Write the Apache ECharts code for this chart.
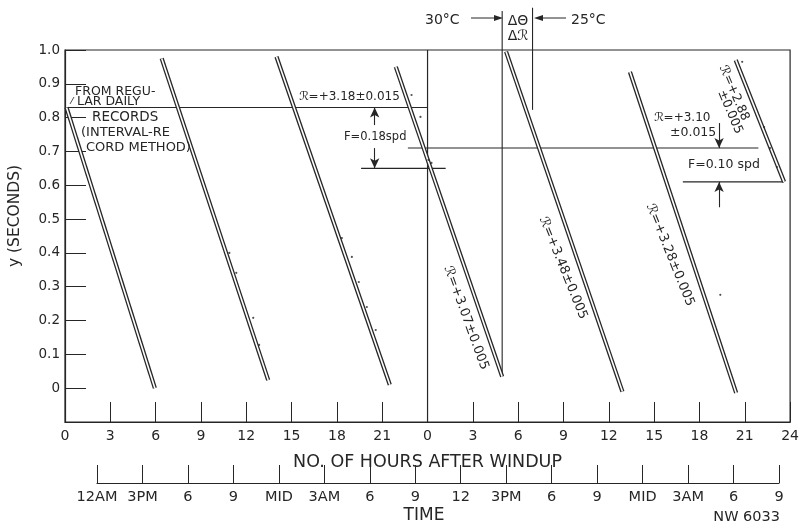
<!DOCTYPE html>
<html>
<head>
<meta charset="utf-8">
<script src="https://cdn.jsdelivr.net/npm/echarts@6/dist/echarts.min.js"></script>
<style>
  html, body { margin: 0; padding: 0; background: #ffffff; }
  #chart { width: 802px; height: 532px; }
</style>
</head>
<body>
<div id="chart"></div>
<script>
// Clock-error runs: each run starts just after windup and falls until reset
const runStartHours = [0.1, 6.4, 14.0, 21.9, 29.2, 37.4, 44.4];
const runStartY     = [0.83, 0.975, 0.98, 0.95, 0.995, 0.935, 0.97];
const runEndHours   = [5.95, 13.45, 21.5, 28.94, 36.9, 44.43, 47.6];
const runEndY       = [0.0, 0.024, 0.01, 0.034, -0.01, -0.014, 0.61];

// Individual observations plotted beside the runs
const obsHours = [22.94, 23.53, 24.06, 24.26, 10.88, 11.34, 12.46, 12.85,
                  18.33, 18.99, 19.45, 19.98, 20.57, 46.28, 46.67, 47.13, 44.83, 43.38];
const obsY     = [0.867, 0.802, 0.675, 0.666, 0.400, 0.341, 0.208, 0.128,
                  0.444, 0.388, 0.314, 0.240, 0.172, 0.772, 0.710, 0.654, 0.965, 0.276];

// Horizontal reference levels (y value, from hour, to hour)
const levelY    = [0.83, 0.65, 0.71, 0.61];
const levelFrom = [0, 19.6, 22.7, 40.9];
const levelTo   = [24, 25.2, 45.9, 47.6];

// Temperature-change bracket (vertical strokes)
const bracketHours = [28.94, 30.95];
const bracketFrom  = [0.034, 0.823];
const bracketTo    = [1.115, 1.125];

// F dimension arrows (hour, tail y, head y)
const fArrowHours = [20.5, 20.5, 43.3, 43.3];
const fArrowFrom  = [0.778, 0.71, 0.784, 0.535];
const fArrowTo    = [0.83, 0.65, 0.71, 0.61];

// Axis ticks
const hourTickValues = [0, 3, 6, 9, 12, 15, 18, 21, 24, 27, 30, 33, 36, 39, 42, 45, 48];
const yTickValues = [0, 0.1, 0.2, 0.3, 0.4, 0.5, 0.6, 0.7, 0.8, 0.9, 1.0];
const timeLabels = ['12AM', '3PM', '6', '9', 'MID', '3AM', '6', '9',
                    '12', '3PM', '6', '9', 'MID', '3AM', '6', '9'];

const INK = '#262626';
const FONT = "'DejaVu Sans', 'Liberation Sans', sans-serif";

const chart = echarts.init(document.getElementById('chart'), null, { renderer: 'canvas' });

const series = [];

// Each run is drawn as a double stroke: a dark wide line with a thin white core
runStartHours.forEach((h, i) => {
  const pts = [[h, runStartY[i]], [runEndHours[i], runEndY[i]]];
  series.push({
    type: 'line', xAxisIndex: 0, yAxisIndex: 0, data: pts, symbol: 'none',
    lineStyle: { color: INK, width: 4.2 }, silent: true, animation: false, z: 3
  });
  series.push({
    type: 'line', xAxisIndex: 0, yAxisIndex: 0, data: pts, symbol: 'none',
    lineStyle: { color: '#ffffff', width: 1.6 }, silent: true, animation: false, z: 4
  });
});

series.push({
  type: 'scatter', xAxisIndex: 0, yAxisIndex: 0,
  data: obsHours.map((h, i) => [h, obsY[i]]),
  symbol: 'circle', symbolSize: 2.2, itemStyle: { color: INK },
  silent: true, animation: false, z: 5
});

levelY.forEach((y, i) => {
  series.push({
    type: 'line', xAxisIndex: 0, yAxisIndex: 0,
    data: [[levelFrom[i], y], [levelTo[i], y]], symbol: 'none',
    lineStyle: { color: INK, width: 1.1 }, silent: true, animation: false, z: 2
  });
});

// Divider between the two days
series.push({
  type: 'line', xAxisIndex: 0, yAxisIndex: 0,
  data: [[24, -0.1], [24, 1.0]], symbol: 'none',
  lineStyle: { color: INK, width: 1.2 }, silent: true, animation: false, z: 2
});

bracketHours.forEach((h, i) => {
  series.push({
    type: 'line', xAxisIndex: 0, yAxisIndex: 0, clip: false,
    data: [[h, bracketFrom[i]], [h, bracketTo[i]]], symbol: 'none',
    lineStyle: { color: INK, width: 1.1 }, silent: true, animation: false, z: 2
  });
});

// F arrows
series.push({
  type: 'line', xAxisIndex: 0, yAxisIndex: 0, data: [], silent: true, animation: false,
  markLine: {
    silent: true, animation: false,
    symbol: ['none', 'arrow'], symbolSize: [7, 10],
    lineStyle: { color: INK, width: 1.1, type: 'solid' },
    label: { show: false },
    emphasis: { disabled: true },
    data: fArrowHours.map((h, i) => [{ coord: [h, fArrowFrom[i]] }, { coord: [h, fArrowTo[i]] }])
  }
});

// Empty series so the clock-time axis is laid out
series.push({ type: 'line', xAxisIndex: 1, yAxisIndex: 1, data: [], silent: true });

const txt = (text, x, y, size, extra) => Object.assign({
  type: 'text', x, y, silent: true, z: 10,
  style: Object.assign({
    text, fill: INK, fontSize: size, fontFamily: FONT,
    align: 'left', verticalAlign: 'middle'
  }, (extra && extra.style) || {})
}, extra ? { rotation: extra.rotation || 0 } : {});

const deg = d => d * Math.PI / 180;

const graphics = [
  // y axis title
  txt('y (SECONDS)', 15, 216, 15.5, { rotation: deg(90), style: { align: 'center' } }),
  // left annotation block
  txt('FROM REGU-', 75, 92, 12.5),
  txt('LAR DAILY', 77, 102, 12.5),
  txt('RECORDS', 92, 117, 13.5),
  txt('(INTERVAL-RE', 81, 133, 13),
  txt('CORD METHOD)', 86, 148, 13),
  { type: 'line', silent: true, shape: { x1: 70, y1: 104, x2: 74, y2: 97 },
    style: { stroke: INK, lineWidth: 0.8 } },
  txt('ℛ=+3.18±0.015', 299, 97, 12),
  txt('F=0.18spd', 344, 137, 11.5),
  // temperature bracket
  txt('30°C', 425, 20, 14),
  txt('ΔΘ', 518, 21, 14, { style: { align: 'center' } }),
  txt('Δℛ', 518, 36, 14, { style: { align: 'center' } }),
  txt('25°C', 571, 20, 14),
  { type: 'line', silent: true, shape: { x1: 471, y1: 18, x2: 496, y2: 18 },
    style: { stroke: INK, lineWidth: 1 } },
  { type: 'polygon', silent: true, shape: { points: [[503, 18], [494, 15], [494, 21]] },
    style: { fill: INK } },
  { type: 'line', silent: true, shape: { x1: 541, y1: 18, x2: 566, y2: 18 },
    style: { stroke: INK, lineWidth: 1 } },
  { type: 'polygon', silent: true, shape: { points: [[534, 18], [543, 15], [543, 21]] },
    style: { fill: INK } },
  // rate labels along runs
  txt('ℛ=+3.07±0.005', 466, 318, 13, { rotation: deg(-70), style: { align: 'center' } }),
  txt('ℛ=+3.48±0.005', 563, 268, 13, { rotation: deg(-68), style: { align: 'center' } }),
  txt('ℛ=+3.28±0.005', 670, 255, 13, { rotation: deg(-68), style: { align: 'center' } }),
  txt('ℛ=+2.88', 734, 93, 12.5, { rotation: deg(-67), style: { align: 'center' } }),
  txt('±0.005', 730, 112, 12.5, { rotation: deg(-67), style: { align: 'center' } }),
  txt('ℛ=+3.10', 654, 118, 12),
  txt('±0.015', 670, 133, 12.5),
  txt('F=0.10 spd', 688, 165, 12.5),
  // footer
  txt('TIME', 424, 516, 17, { style: { align: 'center' } }),
  txt('NW 6033', 780, 517, 14.5, { style: { align: 'right' } })
];

const option = {
  backgroundColor: '#ffffff',
  animation: false,
  textStyle: { fontFamily: FONT, color: INK },
  grid: [
    { left: 65, right: 9, top: 50, bottom: 110, show: true,
      borderColor: INK, borderWidth: 1.2, backgroundColor: 'transparent', containLabel: false },
    { left: 97, right: 23, top: 465, height: 18, show: false, containLabel: false }
  ],
  xAxis: [
    {
      type: 'value', gridIndex: 0, min: 0, max: 48, interval: 3,
      position: 'bottom',
      name: 'NO. OF HOURS AFTER WINDUP', nameLocation: 'middle', nameGap: 31,
      nameTextStyle: { fontSize: 17.5, color: INK, fontFamily: FONT },
      axisLine: { show: true, onZero: false, lineStyle: { color: INK, width: 1.2 } },
      axisTick: { show: true, inside: true, length: 20, lineStyle: { color: INK, width: 1 },
                  customValues: hourTickValues },
      axisLabel: { show: true, margin: 7, fontSize: 14, color: INK, fontFamily: FONT,
                   customValues: hourTickValues,
                   formatter: v => String(v > 24 ? v - 24 : (v === 24 ? 0 : v)) },
      splitLine: { show: false }
    },
    {
      type: 'value', gridIndex: 1, min: 0, max: 45, interval: 3,
      position: 'bottom',
      axisLine: { show: true, onZero: false, lineStyle: { color: INK, width: 1.1 } },
      axisTick: { show: true, inside: true, length: 18, lineStyle: { color: INK, width: 1 } },
      axisLabel: { show: true, margin: 7, fontSize: 14.5, color: INK, fontFamily: FONT,
                   formatter: v => timeLabels[Math.round(v / 3)] || '' },
      splitLine: { show: false }
    }
  ],
  yAxis: [
    {
      type: 'value', gridIndex: 0, min: -0.1, max: 1.0, interval: 0.1,
      axisLine: { show: true, onZero: false, lineStyle: { color: INK, width: 1.2 } },
      axisTick: { show: true, inside: true, length: 21, lineStyle: { color: INK, width: 1 },
                  customValues: yTickValues },
      axisLabel: { show: true, margin: 5, fontSize: 13.5, color: INK, fontFamily: FONT,
                   customValues: yTickValues,
                   formatter: v => (Math.abs(v) < 1e-9 ? '0' : v.toFixed(1)) },
      splitLine: { show: false }
    },
    { type: 'value', gridIndex: 1, min: 0, max: 1, show: false }
  ],
  series,
  graphic: graphics
};

chart.setOption(option);
</script>
</body>
</html>
